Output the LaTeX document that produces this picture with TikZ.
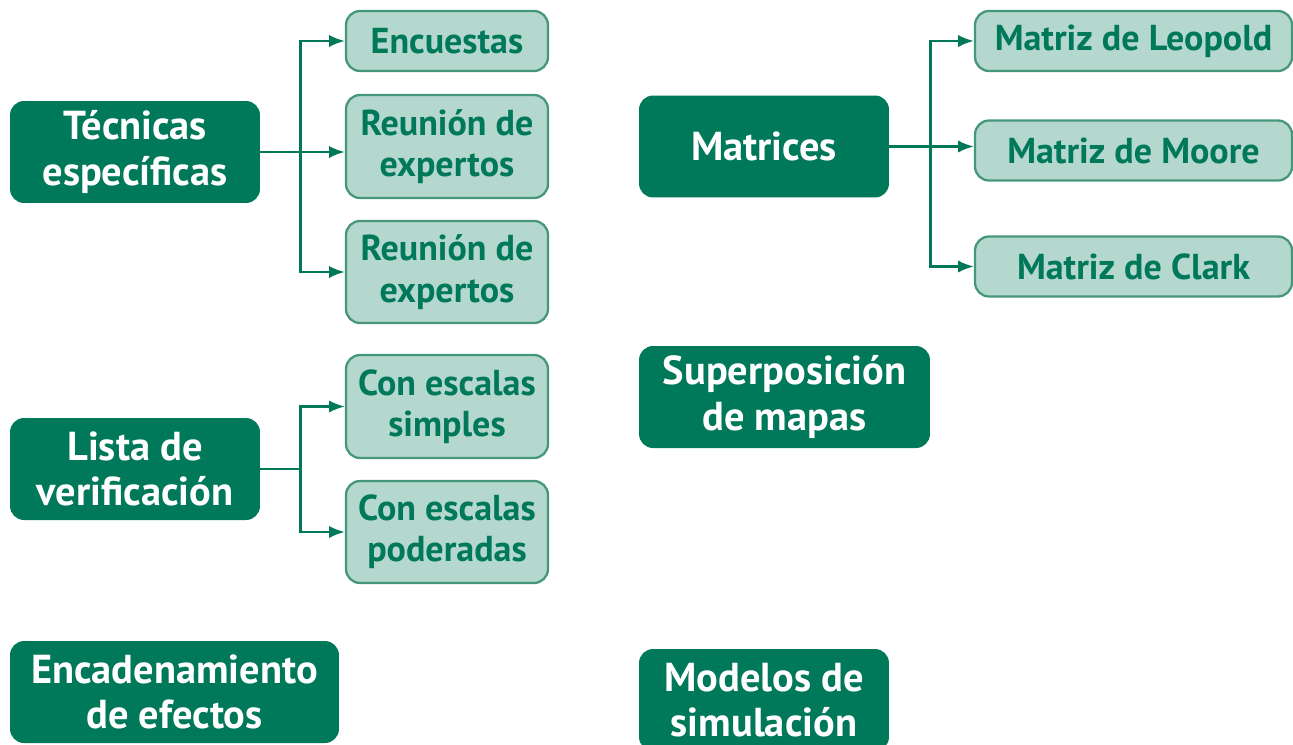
\documentclass[tikz,border=0pt]{standalone}
\usepackage{fontspec}
\setmainfont{PT Sans}
\usetikzlibrary{arrows.meta}

\definecolor{darkgreen}{RGB}{0,120,90}
\definecolor{palegreen}{RGB}{180,215,206}
\definecolor{edgegreen}{RGB}{70,150,124}

\tikzset{
  mainbox/.style={fill=darkgreen, text=white, rounded corners=0.28cm, align=center,
    inner sep=0pt, minimum height=2.04cm, font=\fontsize{23}{26}\selectfont\bfseries},
  subbox/.style={fill=palegreen, draw=edgegreen, line width=1.3pt, text=darkgreen,
    rounded corners=0.28cm, align=center, inner sep=0pt, minimum width=4.04cm,
    font=\fontsize{20.5}{23.5}\selectfont\bfseries},
  link/.style={draw=darkgreen, line width=1.4pt, arrows={-{Latex[length=9pt,width=7pt]}}},
}

\begin{document}
\begin{tikzpicture}[x=0.02cm, y=-0.02cm]
\useasboundingbox (0,0) rectangle (1293,744);

\node (tec) [mainbox, minimum width=5cm] at (135,152) {Técnicas\\específicas};
\node (enc) [subbox, minimum height=1.2cm] at (447,41) {Encuestas};
\node (reu1) [subbox, minimum height=2.06cm] at (447,146.5) {Reunión de\\expertos};
\node (reu2) [subbox, minimum height=2.04cm] at (447,272) {Reunión de\\expertos};

\node (lis) [mainbox, minimum width=5cm] at (135,469) {Lista de\\verificación};
\node (sim) [subbox, minimum height=2.06cm] at (447,406.5) {Con escalas\\simples};
\node (pod) [subbox, minimum height=2.04cm] at (447,532) {Con escalas\\poderadas};

\node (enca) [mainbox, minimum width=6.58cm] at (174.5,692) {Encadenamiento\\de efectos};

\node (mat) [mainbox, minimum width=5cm] at (764,146.5) {Matrices};
\node (leo) [subbox, minimum width=6.34cm, minimum height=1.2cm] at (1133.5,41) {Matriz de Leopold};
\node (moo) [subbox, minimum width=6.34cm, minimum height=1.2cm] at (1133.5,150.5) {Matriz de Moore};
\node (cla) [subbox, minimum width=6.34cm, minimum height=1.2cm] at (1133.5,266.5) {Matriz de Clark};

\node (sup) [mainbox, minimum width=5.82cm] at (784.5,397) {Superposición\\de mapas};
\node (mod) [mainbox, minimum width=5cm] at (764,700) {Modelos de\\simulación};

% branches
\draw [link] (tec.east) -- (tec.east -| reu1.west);
\draw [link] (tec.east) ++(40,0) |- (enc.west);
\draw [link] (tec.east) ++(40,0) |- (reu2.west);

\draw [link] (lis.east) ++(40,0) |- (sim.west);
\draw [link] (lis.east) ++(40,0) |- (pod.west);
\draw [draw=darkgreen, line width=1.4pt] (lis.east) -- ++(40,0);

\draw [link] (mat.east) -- (mat.east -| moo.west);
\draw [link] (mat.east) ++(41,0) |- (leo.west);
\draw [link] (mat.east) ++(41,0) |- (cla.west);
\end{tikzpicture}
\end{document}
